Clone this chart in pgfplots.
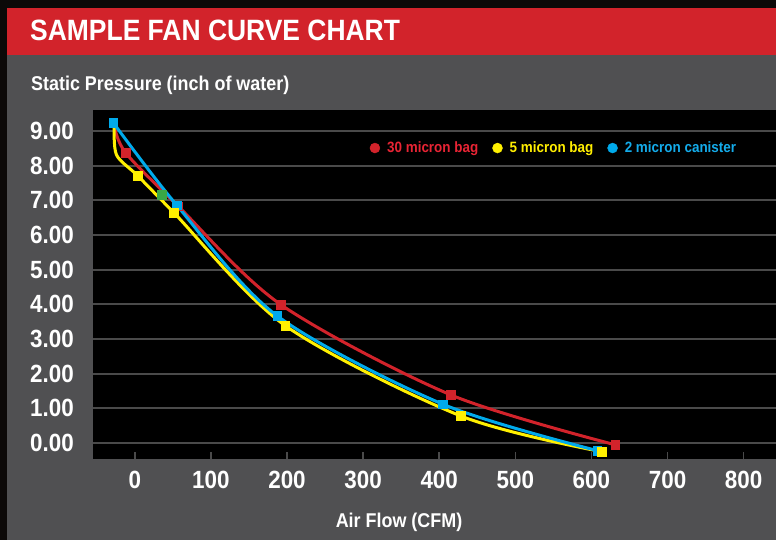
\documentclass[border=0pt]{standalone}
\usepackage{pgfplots}
\usepackage{pgfplotstable}
\pgfplotsset{compat=1.18}
\usepackage{fontspec}
\setmainfont{Liberation Sans}
\newfontfamily\cf{Liberation Sans}[FakeStretch=0.9]
\definecolor{bgdark}{RGB}{12,9,8}
\definecolor{barred}{RGB}{210,35,43}
\definecolor{panel}{RGB}{80,80,82}
\definecolor{gridg}{RGB}{74,74,74}
\definecolor{sred}{RGB}{210,35,43}
\definecolor{syel}{RGB}{255,240,0}
\definecolor{sblue}{RGB}{0,170,235}
\definecolor{sgreen}{RGB}{57,168,69}
\definecolor{lred}{RGB}{232,36,52}
\definecolor{lyel}{RGB}{255,238,0}
\definecolor{lblue}{RGB}{20,172,235}

\pgfplotstableread{
x y
-27 9.15
-12 8.37
57 6.83
192 3.99
415 1.39
631 -0.05
}\redtab
\pgfplotstableread{
x y
-27 9.15
-24 8.31
3.8 7.71
51.5 6.64
197.4 3.39
428.3 0.78
613.5 -0.25
}\yeltab
\pgfplotstableread{
x y
-28.3 9.24
55.1 6.86
186.9 3.67
404.6 1.12
607.8 -0.22
}\bluetab

\begin{document}
\begin{tikzpicture}
\useasboundingbox (0,0) rectangle (776bp,540bp);
\fill[bgdark] (0,0) rectangle (776bp,540bp);
\fill[barred] (7bp,485bp) rectangle (776bp,532bp);
\fill[panel] (7bp,0) rectangle (776bp,485bp);
\node[anchor=base west, inner sep=0pt, text=white, font=\cf\bfseries\fontsize{29.5}{34}\selectfont] at (30bp,499bp) {SAMPLE FAN CURVE CHART};
\node[anchor=base west, inner sep=0pt, text=white, font=\cf\bfseries\fontsize{20}{24}\selectfont] at (31bp,449bp) {Static Pressure (inch of water)};
\node[anchor=base, inner sep=0pt, text=white, font=\cf\bfseries\fontsize{20}{24}\selectfont] at (399bp,13bp) {Air Flow (CFM)};
\begin{axis}[
  at={(93bp,81bp)}, anchor=south west,
  scale only axis, width=683bp, height=349bp,
  xmin=-54.9, xmax=842.5, ymin=-0.4615, ymax=9.605,
  axis background/.style={fill=black},
  axis line style={draw=none},
  xtick={0,100,...,800}, ytick={0,1,...,9},
  xtick pos=bottom, ytick pos=left, tick align=inside, major tick length=7bp,
  xtick style={color=gridg, line width=1.6bp},
  ytick style={draw=none},
  ymajorgrids, grid style={color=gridg, line width=1.8bp},
  /pgf/number format/assume math mode=true,
  xticklabel style={text=white, font=\cf\bfseries\fontsize{25}{30}\selectfont, inner sep=0pt, anchor=north, yshift=-12bp},
  yticklabel style={text=white, font=\cf\bfseries\fontsize{25}{30}\selectfont, inner sep=0pt, anchor=east, xshift=-19bp, /pgf/number format/.cd, fixed, fixed zerofill, precision=2},
  legend style={draw=none, fill=none, at={(0.4005,0.891)}, anchor=west, legend columns=3,
    font=\cf\bfseries\fontsize{15}{18}\selectfont,
    /tikz/every odd column/.append style={column sep=5bp},
    /tikz/every even column/.append style={column sep=12bp}},
  legend image code/.code={\fill[#1] (0bp,0bp) circle (5bp);},
]
\addplot[sred, line width=3bp, smooth, forget plot] table {\redtab};
\addplot[syel, line width=3bp, smooth, forget plot] table {\yeltab};
\addplot[sblue, line width=3bp, smooth, forget plot] table {\bluetab};
\addplot[sred, only marks, mark=square*, mark size=4.3bp, forget plot, skip coords between index={0}{1}] table {\redtab};
\addplot[sblue, only marks, mark=square*, mark size=4.3bp, forget plot] table {\bluetab};
\addplot[syel, only marks, mark=square*, mark size=4.3bp, forget plot, skip coords between index={0}{2}] table {\yeltab};
\addplot[sgreen, only marks, mark=square*, mark size=4.3bp, forget plot] coordinates {(35.3,7.16)};
\addlegendimage{sred}
\addlegendentry{\textcolor{lred}{30 micron bag}}
\addlegendimage{syel}
\addlegendentry{\textcolor{lyel}{5 micron bag}}
\addlegendimage{sblue}
\addlegendentry{\textcolor{lblue}{2 micron canister}}
\end{axis}
\end{tikzpicture}
\end{document}
